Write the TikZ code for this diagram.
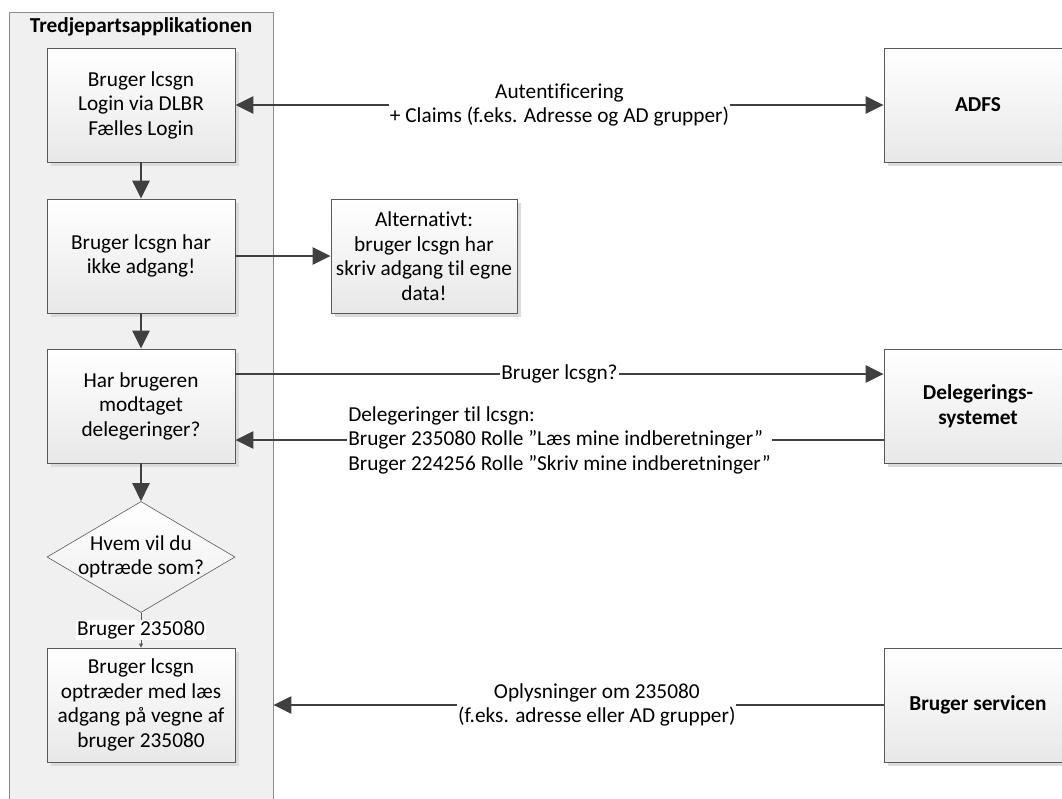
\documentclass[tikz,border=0pt]{standalone}
\usepackage{fontspec}
\setmainfont{Carlito}[Ligatures=NoCommon]
\usetikzlibrary{positioning,shapes.geometric,arrows.meta,shadows}
\definecolor{laneFill}{HTML}{F0F0F0}
\definecolor{laneEdge}{HTML}{8C8C8C}
\definecolor{boxEdge}{HTML}{595959}
\definecolor{flowGray}{HTML}{404040}
\begin{document}
\begin{tikzpicture}[x=1pt, y=-1pt,
  font=\fontsize{21.3}{24.5}\selectfont,
  stepbox/.style={draw=boxEdge, line width=0.8pt, top color=white, bottom color=black!9,
    minimum width=188pt, minimum height=114pt, align=center, inner sep=2pt,
    drop shadow={shadow xshift=4pt, shadow yshift=-4pt, fill=black!14, opacity=1}},
  decision/.style={diamond, draw=boxEdge, line width=0.6pt, top color=white, bottom color=black!7,
    minimum width=188pt, minimum height=111pt, inner sep=0pt},
  flow/.style={draw=flowGray, line width=2.4pt, -{Triangle[length=18pt, width=17pt]}},
  thinflow/.style={draw=boxEdge, line width=0.6pt, -{Triangle[length=4pt, width=4pt]}},
  lbl/.style={fill=white, inner sep=1pt, align=center}]
\useasboundingbox (0,0) rectangle (1062,798);
% Swimlane
\node[draw=laneEdge, line width=0.8pt, fill=laneFill, minimum width=264pt, minimum height=820pt,
  inner sep=0pt] (lane) at (141,422) {};
\node[font=\fontsize{21.3}{24.5}\selectfont\bfseries] (laneTitle) at (141,27) {Tredjepartsapplikationen};
% Steps in the lane
\node[stepbox] (login) at (141,105) {Bruger lcsgn\\Login via DLBR\\Fælles Login};
\node[stepbox] (noaccess) at (141,256) {Bruger lcsgn har\\ikke adgang!};
\node[stepbox] (received) at (141,406) {Har brugeren\\modtaget\\delegeringer?};
\node[decision, label={[align=center]center:Hvem vil du\\optræde som?}] (choose) at (141,557) {};
\node[stepbox] (acting) at (141,705) {Bruger lcsgn\\optræder med læs\\adgang på vegne af\\bruger 235080};
% Side note
\node[stepbox, minimum width=186pt] (alt) at (424,256) {Alternativt:\\bruger lcsgn har\\skriv adgang til egne\\data!};
% External systems
\node[stepbox, font=\fontsize{21.3}{24.5}\selectfont\bfseries] (adfs) at (978,105) {ADFS};
\node[stepbox, font=\fontsize{21.3}{24.5}\selectfont\bfseries] (deleg) at (978,406) {Delegerings-\\systemet};
\node[stepbox, font=\fontsize{21.3}{24.5}\selectfont\bfseries] (service) at (978,705) {Bruger servicen};
% Flow down the lane
\draw[flow] (login) -- (noaccess);
\draw[flow] (noaccess) -- (received);
\draw[flow] (received) -- (choose);
\draw[thinflow] (choose.south) -- node[lbl] {Bruger 235080} (acting.north);
\draw[flow] (noaccess) -- (alt);
% Messages to and from the systems
\draw[flow, {Triangle[length=18pt, width=17pt]}-{Triangle[length=18pt, width=17pt]}]
  (login.east) -- node[lbl] {Autentificering\\+ Claims (f.eks. Adresse og AD grupper)} (adfs.west);
\draw[flow] ([yshift=32pt]received.east) -- node[lbl] {Bruger lcsgn?} ([yshift=32pt]deleg.west);
\draw[flow] ([yshift=-34pt]deleg.west) -- node[lbl, align=left] {Delegeringer til lcsgn:\\Bruger 235080 Rolle ”Læs mine indberetninger”\\Bruger 224256 Rolle ”Skriv mine indberetninger”} ([yshift=-34pt]received.east);
\draw[flow] (service.west) -- node[lbl, pos=0.47] {Oplysninger om 235080\\(f.eks. adresse eller AD grupper)} (lane.east |- service.west);
\end{tikzpicture}
\end{document}
